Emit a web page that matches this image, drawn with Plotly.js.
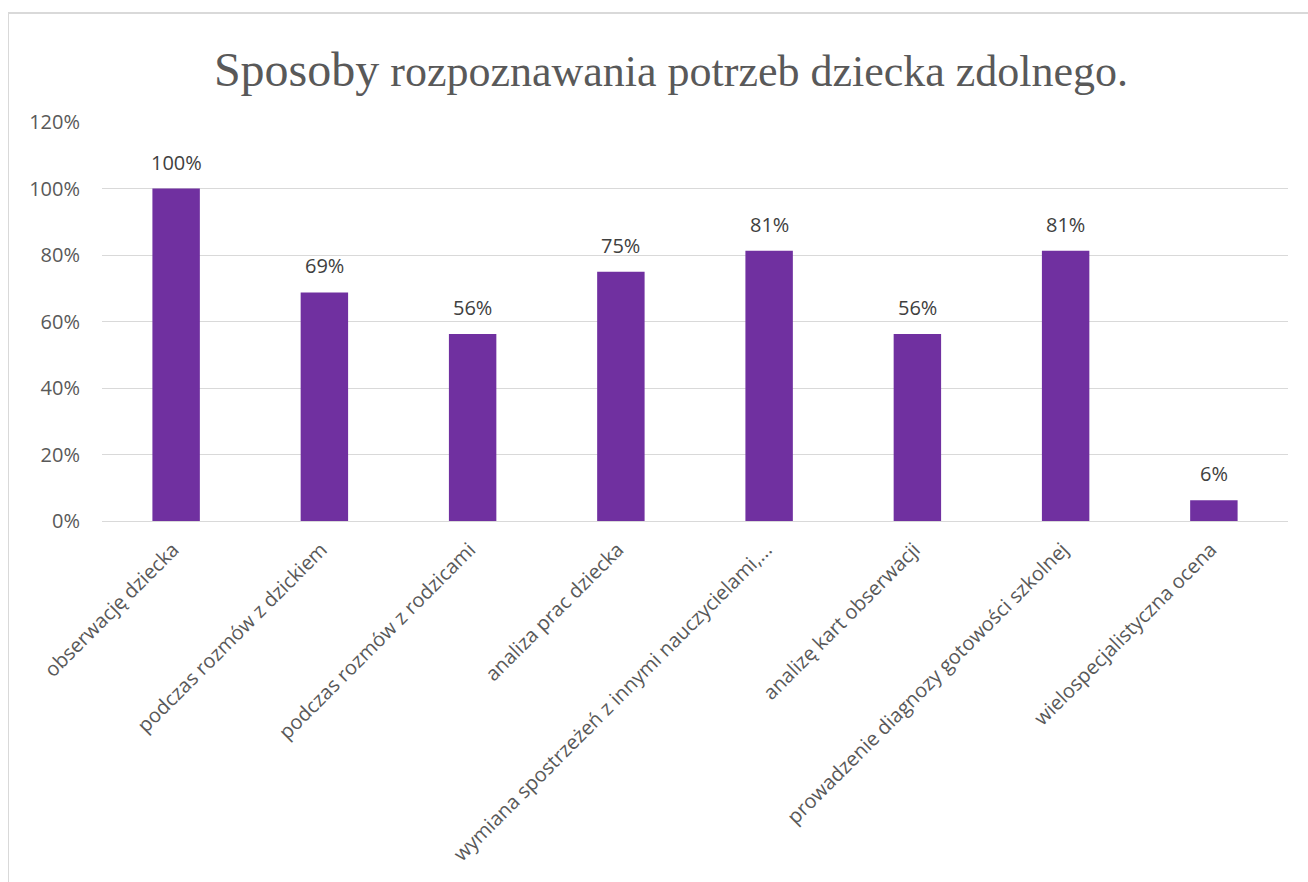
<!DOCTYPE html>
<html>
<head>
<meta charset="utf-8">
<script src="https://cdn.plot.ly/plotly-3.0.1.min.js"></script>
<style>
  html, body { margin: 0; padding: 0; background: #fff; overflow: hidden; }
  #chart { position: absolute; left: 0; top: 0; width: 1308px; height: 882px; }
  #frame { position: absolute; left: 8px; top: 12px; width: 1320px; height: 900px;
           border-left: 1px solid #D9D9D9; border-top: 2px solid #D9D9D9; pointer-events: none; }
</style>
</head>
<body>
<div id="chart"></div>
<div id="frame"></div>
<script>
const categories = [
  "obserwację dziecka",
  "podczas rozmów z dzickiem",
  "podczas rozmów z rodzicami",
  "analiza prac dziecka",
  "wymiana spostrzeżeń z innymi nauczycielami,...",
  "analizę kart obserwacji",
  "prowadzenie diagnozy gotowości szkolnej",
  "wielospecjalistyczna ocena"
];
const values = [1.00, 0.6875, 0.5625, 0.75, 0.8125, 0.5625, 0.8125, 0.0625];
const valueLabels = ["100%", "69%", "56%", "75%", "81%", "56%", "81%", "6%"];
const tickVals = [0, 0.2, 0.4, 0.6, 0.8, 1.0, 1.2];
const tickText = ["0%", "20%", "40%", "60%", "80%", "100%", "120%"];

const trace = {
  type: 'bar',
  x: categories,
  y: values,
  marker: { color: '#7030A0' },
  hoverinfo: 'skip'
};

const annotations = categories.map((c, i) => ({
  x: c, y: values[i], xref: 'x', yref: 'y',
  text: valueLabels[i], showarrow: false,
  xanchor: 'center', yanchor: 'bottom', yshift: 11,
  font: { family: 'Open Sans, sans-serif', size: 20, color: '#404040' }
}));

const layout = {
  width: 1308,
  height: 882,
  margin: { l: 102, r: 20, t: 122, b: 361 },
  paper_bgcolor: '#ffffff',
  plot_bgcolor: '#ffffff',
  bargap: 0.68,
  showlegend: false,
  annotations: annotations,
  title: {
    text: "<span style='font-size:48px'>Sposoby</span> rozpoznawania potrzeb dziecka zdolnego.",
    font: { family: 'Liberation Serif, Times New Roman, serif', size: 44, color: '#595959' },
    x: 0.513, xref: 'container', xanchor: 'center',
    y: 0.92, yref: 'container', yanchor: 'middle'
  },
  xaxis: {
    tickangle: -45,
    tickfont: { family: 'Open Sans, sans-serif', size: 20, color: '#595959' },
    showgrid: false,
    showline: false,
    ticks: '',
    ticklabelstandoff: 12,
    ticklabelshift: -3
  },
  yaxis: {
    range: [0, 1.2],
    tickvals: tickVals,
    ticktext: tickText,
    tickfont: { family: 'Open Sans, sans-serif', size: 20, color: '#595959' },
    gridcolor: '#D9D9D9',
    gridwidth: 1,
    zeroline: true,
    zerolinecolor: '#D9D9D9',
    zerolinewidth: 1,
    showline: false,
    ticklabelstandoff: 21
  }
};

Plotly.newPlot('chart', [trace], layout, { displayModeBar: false, staticPlot: true });
</script>
</body>
</html>
